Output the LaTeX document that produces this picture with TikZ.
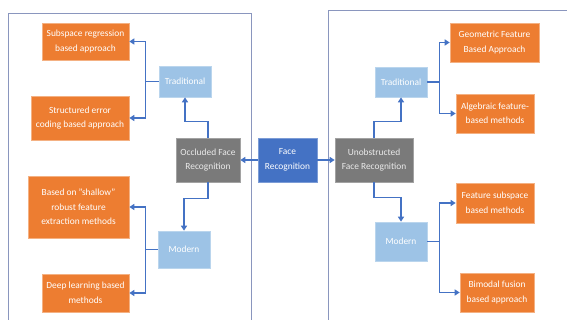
\documentclass[tikz,border=0pt]{standalone}
\usepackage{fontspec}
\setmainfont{Carlito}
\usetikzlibrary{arrows.meta}
\definecolor{orangeC}{HTML}{ED7D31}
\definecolor{lblue}{HTML}{9DC3E6}
\definecolor{grayC}{HTML}{7A7A7A}
\definecolor{blueC}{HTML}{4472C4}
\definecolor{panelC}{HTML}{8A96BE}
\tikzset{
  base/.style={draw=white!80!black, line width=0.6pt, text=white, align=center, font=\fontsize{9.4}{14.5}\selectfont, inner sep=1pt},
  obox/.style={base, fill=orangeC, draw=orangeC!60!white},
  lbox/.style={base, fill=lblue, draw=lblue!70!white},
  gbox/.style={base, fill=grayC, draw=grayC!70!white, text=white!92!black},
  fbox/.style={base, fill=blueC, draw=blueC!70!white},
  arr/.style={draw=blueC, line width=1.3pt, -{Triangle[width=6pt,length=5pt]}},
  ln/.style={draw=blueC, line width=1.3pt},
  panel/.style={draw=panelC, line width=1pt}
}
\begin{document}
\begin{tikzpicture}[x=1pt,y=-1pt]
\useasboundingbox (0,0) rectangle (567,320);
\fill[white] (0,0) rectangle (567,320);
% panels
\draw[panel] (8,320) -- (8,14) -- (251,14) -- (251,320);
\draw[panel] (328,320) -- (328,11) -- (567,11);
% nodes
\node[obox, minimum width=87pt, minimum height=37pt] (sub) at (85.5,41.5) {Subspace regression\\based approach};
\node[obox, minimum width=98pt, minimum height=44pt] (struct) at (80,118) {Structured error\\coding based approach};
\node[lbox, minimum width=52pt, minimum height=31pt] (tradL) at (185,81.5) {Traditional};
\node[gbox, minimum width=64pt, minimum height=44pt] (occ) at (208,160) {Occluded Face\\Recognition};
\node[fbox, minimum width=59pt, minimum height=44pt] (face) at (287.5,160) {Face\\Recognition};
\node[gbox, minimum width=78pt, minimum height=44pt] (unob) at (374,160) {Unobstructed\\Face Recognition};
\node[obox, minimum width=101pt, minimum height=62pt] (shallow) at (78.5,207) {Based on "shallow"\\robust feature\\extraction methods};
\node[lbox, minimum width=52pt, minimum height=37pt] (modL) at (184,249.5) {Modern};
\node[obox, minimum width=87pt, minimum height=38pt] (deep) at (85.5,293) {Deep learning based\\methods};
\node[lbox, minimum width=52pt, minimum height=30pt] (tradR) at (401,82) {Traditional};
\node[obox, minimum width=89pt, minimum height=39pt] (geo) at (494.5,42.5) {Geometric Feature\\Based Approach};
\node[obox, minimum width=78pt, minimum height=39pt] (alg) at (495,113.5) {Algebraic feature-\\based methods};
\node[lbox, minimum width=52pt, minimum height=39pt] (modR) at (401,241.5) {Modern};
\node[obox, minimum width=78pt, minimum height=40pt] (feat) at (495,203) {Feature subspace\\based methods};
\node[obox, minimum width=74pt, minimum height=39pt] (bim) at (497,292.5) {Bimodal fusion\\based approach};
% connectors
\draw[arr] (face.west) -- (occ.east);
\draw[arr] (face.east) -- (unob.west);
\draw[arr] (occ.north) -- ++(0,-16) -| (tradL.south);
\draw[arr] (occ.south) -- ++(0,16) -| (modL.north);
\draw[ln] (tradL.west) -- ++(-13,0) coordinate (jl);
\draw[arr] (jl) |- (sub.east);
\draw[arr] (jl) |- (struct.east);
\draw[ln] (modL.west) -- ++(-12,0) coordinate (jm);
\draw[arr] (jm) |- (shallow.east);
\draw[arr] (jm) |- (deep.east);
\draw[arr] (unob.north) -- ++(0,-16) -| (tradR.south);
\draw[arr] (unob.south) -- ++(0,15) -| (modR.north);
\draw[ln] (tradR.east) -- ++(12,0) coordinate (jr);
\draw[arr] (jr) |- (geo.west);
\draw[arr] (jr) |- (alg.west);
\draw[ln] (modR.east) -- ++(12,0) coordinate (jn);
\draw[arr] (jn) |- (feat.west);
\draw[arr] (jn) |- (bim.west);
\end{tikzpicture}
\end{document}
